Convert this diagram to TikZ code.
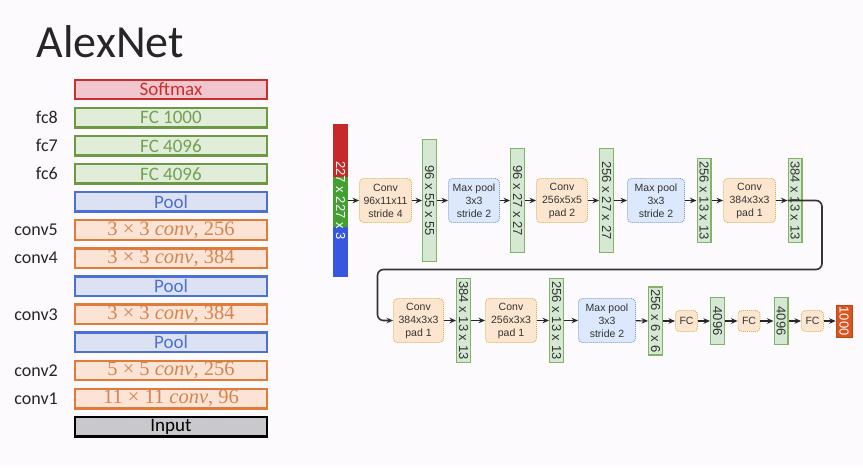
\documentclass[tikz,border=0pt]{standalone}
\usepackage{fontspec}
\setmainfont{Carlito}
\newfontfamily\diagfont{Liberation Sans}
\newfontfamily\opfont{Liberation Serif}
\usetikzlibrary{arrows.meta}

% layer stack colours
\definecolor{bgcol}{HTML}{FCFAFC}
\definecolor{redB}{HTML}{C8302E}
\definecolor{redF}{HTML}{F1C6CE}
\definecolor{grnB}{HTML}{6C9A44}
\definecolor{grnF}{HTML}{E1ECD9}
\definecolor{grnT}{HTML}{72A254}
\definecolor{bluB}{HTML}{4D71CF}
\definecolor{bluF}{HTML}{DCE2F4}
\definecolor{orgB}{HTML}{E07B3C}
\definecolor{orgF}{HTML}{FBE4D5}
\definecolor{orgT}{HTML}{D5844F}
\definecolor{gryF}{HTML}{C9C8CC}
% flow chart colours
\definecolor{peachF}{HTML}{FCE6CF}
\definecolor{goldB}{HTML}{D6B656}
\definecolor{poolF}{HTML}{DCE8FC}
\definecolor{poolB}{HTML}{7D9BD0}
\definecolor{mapF}{HTML}{D5E8D4}
\definecolor{mapB}{HTML}{82B366}
\definecolor{txt}{HTML}{333333}
\definecolor{imgR}{HTML}{C42A28}
\definecolor{imgG}{HTML}{43A030}
\definecolor{imgB}{HTML}{3558DE}
\definecolor{outF}{HTML}{D9541E}

% "k x k conv, n" layer caption
\newcommand{\convop}[3]{#1 × #2 \textit{conv}, #3}

\begin{document}
\begin{tikzpicture}[x=1pt,y=-1pt,
  layer/.style={line width=2.4pt, minimum width=191.5pt, minimum height=19.5pt,
    inner sep=0pt, font=\fontsize{19}{19}\selectfont},
  softL/.style={layer, draw=redB, fill=redF, text=redB},
  fcL/.style={layer, draw=grnB, fill=grnF, text=grnT},
  poolL/.style={layer, draw=bluB, fill=bluF, text=bluB},
  convL/.style={layer, draw=orgB, fill=orgF, text=orgT, font=\opfont\fontsize{20.5}{20.5}\selectfont},
  inL/.style={layer, draw=black, fill=gryF, text=black},
  tag/.style={anchor=east, inner sep=0pt, font=\fontsize{18}{18}\selectfont, text=black!85},
  opbox/.style={rounded corners=4pt, line width=0.9pt, dash pattern=on 1pt off 1pt,
    inner sep=0pt, align=center, text=txt,
    font=\diagfont\fontsize{10.5}{13}\selectfont},
  convbox/.style={opbox, draw=goldB, fill=peachF},
  poolbox/.style={opbox, draw=poolB, fill=poolF},
  fmap/.style={draw=mapB, fill=mapF, line width=1.1pt, rotate=-90, inner sep=0pt,
    minimum height=13.9pt, text=txt, font=\diagfont\fontsize{13}{13}\selectfont},
  arr/.style={-{Stealth[length=6.5pt,width=5.5pt]}, line width=1.2pt, draw=black!85},
  wrap/.style={-{Stealth[length=6.5pt,width=5.5pt]}, line width=1.6pt, draw=txt, rounded corners=6pt}
]
\fill[bgcol] (0,0) rectangle (863,467);
\useasboundingbox (0,0) rectangle (863,467);

% ---- title ----
\node[anchor=base west, inner sep=0pt, font=\fontsize{46}{46}\selectfont, text=black!85]
  (title) at (36.5,57) {AlexNet};

% ---- layer stack ----
\node[softL] (L0)  at (171,89.5)  {Softmax};
\node[fcL]   (L1)  at (171,117.6) {FC 1000};
\node[fcL]   (L2)  at (171,145.7) {FC 4096};
\node[fcL]   (L3)  at (171,173.8) {FC 4096};
\node[poolL] (L4)  at (171,201.9) {Pool};
\node[convL] (L5)  at (171,230.0) {\convop{3}{3}{256}};
\node[convL] (L6)  at (171,258.1) {\convop{3}{3}{384}};
\node[poolL] (L7)  at (171,286.2) {Pool};
\node[convL] (L8)  at (171,314.3) {\convop{3}{3}{384}};
\node[poolL] (L9)  at (171,342.4) {Pool};
\node[convL] (L10) at (171,370.5) {\convop{5}{5}{256}};
\node[convL] (L11) at (171,398.6) {\convop{11}{11}{96}};
\node[inL]   (L12) at (171,426.7) {Input};

\node[tag] (t8) at (58,117.6) {fc8};
\node[tag] (t7) at (58,145.7) {fc7};
\node[tag] (t6) at (58,173.8) {fc6};
\node[tag] (t5) at (58,230.0) {conv5};
\node[tag] (t4) at (58,258.1) {conv4};
\node[tag] (t3) at (58,314.3) {conv3};
\node[tag] (t2) at (58,370.5) {conv2};
\node[tag] (t1) at (58,398.6) {conv1};

% ---- flow chart, first row ----
\fill[imgR] (333,124) rectangle (348,176.5);
\fill[imgG] (333,176.5) rectangle (348,227);
\fill[imgB] (333,227) rectangle (348,277);
\node[rotate=-90, inner sep=0pt, minimum width=153pt, minimum height=15pt, text=white,
  font=\diagfont\fontsize{13}{13}\selectfont] (in) at (340.5,200.5) {227 x 227 x 3};

\node[convbox, minimum width=52pt, minimum height=44pt] (c1) at (385.5,200.5) {Conv\\96x11x11\\stride 4};
\node[fmap, minimum width=122pt] (b1) at (429.5,200.5) {96 x 55 x 55};
\node[poolbox, minimum width=51pt, minimum height=44pt] (p1) at (474,200.5) {Max pool\\3x3\\stride 2};
\node[fmap, minimum width=104pt] (b2) at (517.5,200.5) {96 x 27 x 27};
\node[convbox, minimum width=51pt, minimum height=44pt] (c2) at (562,200.5) {Conv\\256x5x5\\pad 2};
\node[fmap, minimum width=104pt] (b3) at (606.5,200.5) {256 x 27 x 27};
\node[poolbox, minimum width=57pt, minimum height=44pt] (p2) at (656,200.5) {Max pool\\3x3\\stride 2};
\node[fmap, minimum width=84pt] (b4) at (704,200.5) {256 x 13 x 13};
\node[convbox, minimum width=52pt, minimum height=44pt] (c3) at (749.5,200.5) {Conv\\384x3x3\\pad 1};
\node[fmap, minimum width=84pt] (b5) at (795,200.5) {384 x 13 x 13};

% ---- flow chart, second row ----
\node[convbox, minimum width=50pt, minimum height=44pt] (c4) at (418.5,320.5) {Conv\\384x3x3\\pad 1};
\node[fmap, minimum width=84pt] (b6) at (463.5,320.5) {384 x 13 x 13};
\node[convbox, minimum width=51pt, minimum height=44pt] (c5) at (511,320.5) {Conv\\256x3x3\\pad 1};
\node[fmap, minimum width=84pt] (b7) at (556.5,320.5) {256 x 13 x 13};
\node[poolbox, minimum width=57pt, minimum height=44pt] (p3) at (607,320.5) {Max pool\\3x3\\stride 2};
\node[fmap, minimum width=68pt] (b8) at (655.5,321) {256 x 6 x 6};
\node[convbox, minimum width=22pt, minimum height=21pt] (f1) at (686.5,321) {FC};
\node[fmap, minimum width=47pt] (b9) at (717.5,321) {4096};
\node[convbox, minimum width=22pt, minimum height=21pt] (f2) at (749,321) {FC};
\node[fmap, minimum width=47pt] (b10) at (781,321) {4096};
\node[convbox, minimum width=22pt, minimum height=21pt] (f3) at (812.5,321) {FC};
\node[rotate=-90, fill=outF, draw=outF!85!black, line width=0.6pt, inner sep=0pt,
  minimum width=32pt, minimum height=16pt, text=white,
  font=\diagfont\fontsize{13}{13}\selectfont] (out) at (844,321) {1000};

% ---- connectors ----
\draw[arr] (in) -- (c1);
\draw[arr] (c1) -- (b1);
\draw[arr] (b1) -- (p1);
\draw[arr] (p1) -- (b2);
\draw[arr] (b2) -- (c2);
\draw[arr] (c2) -- (b3);
\draw[arr] (b3) -- (p2);
\draw[arr] (p2) -- (b4);
\draw[arr] (b4) -- (c3);
\draw[arr] (c3) -- (b5);

\coordinate (rt) at (822,269.5);
\coordinate (lt) at (377.5,269.5);
\draw[wrap] (b5.south) -- (b5.south -| rt) -- (rt) -- (lt) -- (lt |- c4.west) -- (c4.west);

\draw[arr] (c4) -- (b6);
\draw[arr] (b6) -- (c5);
\draw[arr] (c5) -- (b7);
\draw[arr] (b7) -- (p3);
\draw[arr] (p3) -- (b8);
\draw[arr] (b8) -- (f1);
\draw[arr] (f1) -- (b9);
\draw[arr] (b9) -- (f2);
\draw[arr] (f2) -- (b10);
\draw[arr] (b10) -- (f3);
\draw[arr] (f3) -- (out);
\end{tikzpicture}
\end{document}
